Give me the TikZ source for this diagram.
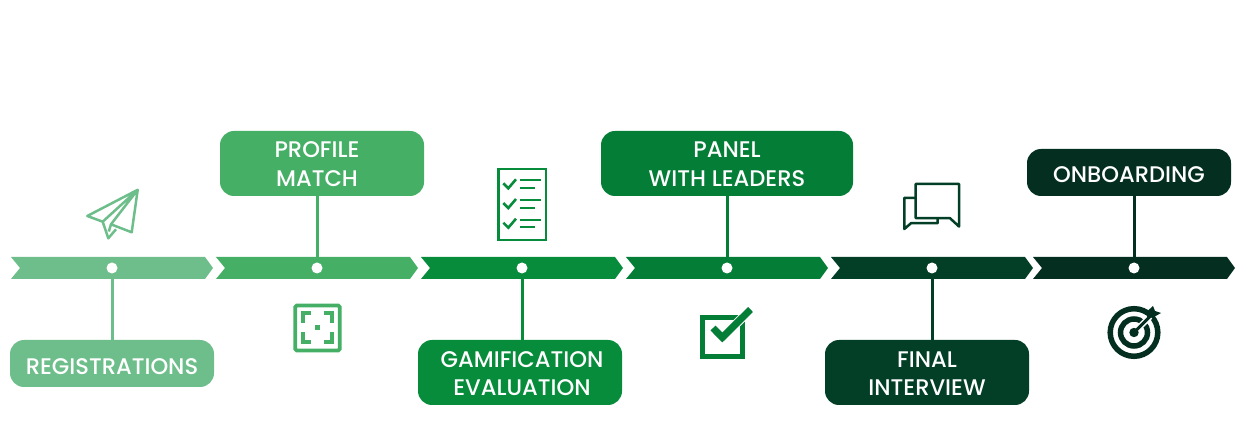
\documentclass[tikz,border=0pt]{standalone}
\usepackage{fontspec}
\setmainfont{Poppins}[UprightFont=* Medium]
\definecolor{cA}{HTML}{6DBE8A}
\definecolor{cB}{HTML}{45AF66}
\definecolor{cC}{HTML}{068C3A}
\definecolor{cD}{HTML}{047E37}
\definecolor{cE}{HTML}{033F27}
\definecolor{cF}{HTML}{042F20}
\tikzset{
  chev/.style={fill=#1,draw=none},
  dotn/.style={circle,fill=white,draw=none,minimum size=11pt,inner sep=0pt},
  box/.style={fill=#1,draw=none,rounded corners=14pt,inner sep=0pt},
  lab/.style={text=white,font=\fontsize{22.6}{28.6}\selectfont,align=center,inner sep=0pt},
  stem/.style={draw=#1,line width=3pt},
  ico/.style={draw=#1,line width=2.5pt,line join=miter},
}
\newcommand{\chevron}[3]{\fill[chev=#3] (#1,257) -- (#2-8,257) -- (#2,268) -- (#2-8,279) -- (#1,279) -- (#1+9,268) -- cycle;}
\begin{document}
\begin{tikzpicture}[x=1pt,y=-1pt]
\useasboundingbox (0,0) rectangle (1253,443);
\chevron{11}{213}{cA}
\chevron{216}{418}{cB}
\chevron{421}{623}{cC}
\chevron{626}{828}{cD}
\chevron{831}{1033}{cE}
\chevron{1033}{1235}{cF}
% dots
\node[dotn] (d1) at (112,268) {};
\node[dotn] (d2) at (317,268) {};
\node[dotn] (d3) at (522,268) {};
\node[dotn] (d4) at (727,268) {};
\node[dotn] (d5) at (932,268) {};
\node[dotn] (d6) at (1134,268) {};
% boxes
\node[box=cA,minimum width=204pt,minimum height=47pt] (b1) at (112,363.5) {};
\node[box=cB,minimum width=204pt,minimum height=65pt] (b2) at (322,163.5) {};
\node[box=cC,minimum width=204pt,minimum height=65pt] (b3) at (520,372.5) {};
\node[box=cD,minimum width=252pt,minimum height=65pt] (b4) at (727,163.5) {};
\node[box=cE,minimum width=204pt,minimum height=65pt] (b5) at (927,372.5) {};
\node[box=cF,minimum width=204pt,minimum height=47pt] (b6) at (1129,172.5) {};
% labels
\node[lab] (t1) at (112,366.5) {REGISTRATIONS};
\node[lab] (t2) at (317,164) {PROFILE\\MATCH};
\node[lab] (t3) at (522,373.5) {GAMIFICATION\\EVALUATION};
\node[lab] (t4) at (727,164) {PANEL\\WITH LEADERS};
\node[lab] (t5) at (927,373.5) {FINAL\\INTERVIEW};
\node[lab] (t6) at (1129,174.5) {ONBOARDING};
% stems
\draw[stem=cA] (d1 |- 0,279) -- (d1 |- b1.north);
\draw[stem=cB] (d2 |- 0,257) -- (d2 |- b2.south);
\draw[stem=cC] (d3 |- 0,279) -- (d3 |- b3.north);
\draw[stem=cD] (d4 |- 0,257) -- (d4 |- b4.south);
\draw[stem=cE] (d5 |- 0,279) -- (d5 |- b5.north);
\draw[stem=cF] (d6 |- 0,257) -- (d6 |- b6.south);
% paper plane
\draw[ico=cA,line join=round]
  (137.7,189.8) -- (87.3,216) -- (102.7,221.7) -- cycle
  (102.7,221.7) -- (108.3,238.3) -- (116,229.3)
  (137.7,189.8) -- (111,224.3) -- (131.7,232.3) -- cycle
  (111,224.3) -- (108.8,231.5);
% focus square
\draw[cB,line width=3.8pt,rounded corners=1.5pt] (295.2,305.5) rectangle (339.8,350.5);
\draw[cB,line width=4pt]
  (311,313.5) -- (303,313.5) -- (303,323)
  (323.5,313.5) -- (331.5,313.5) -- (331.5,323)
  (311,342.5) -- (303,342.5) -- (303,332.5)
  (323.5,342.5) -- (331.5,342.5) -- (331.5,332.5);
\fill[cB] (315,325) rectangle (320,330);
% checklist
\draw[ico=cC] (498.5,168.8) rectangle (546,240);
\foreach \dy in {0,19.7,39.4}{
  \draw[cC,line width=2.6pt] (503.3,183.3+\dy) -- (508.3,188.3+\dy) -- (516,179.3+\dy);
  \draw[cC,line width=2.2pt] (520,180.3+\dy) -- (540.5,180.3+\dy) (520,188+\dy) -- (534.5,188+\dy);
}
% check box
\draw[cD,line width=4.4pt] (702.5,317.5) rectangle (742.3,356.5);
\draw[white,line width=9pt] (722,338) -- (752,308);
\draw[cD,line width=7pt] (713,328) -- (722.3,337.5) -- (750.5,309.5);
% chat
\draw[ico=cE,line join=round] (915.7,184) -- (959,184) -- (959,226.5) -- (950,218.2) -- (915.7,218.2) -- cycle;
\draw[ico=cE,line join=round] (915.7,197.8) -- (904.3,197.8) -- (904.3,229) -- (911,223.2) -- (937.7,223.2) -- (937.7,218.2);
% target
\draw[cF,line width=5.5pt] (1134,332.5) circle (23.8);
\draw[cF,line width=5.5pt] (1134,332.5) circle (13.5);
\fill[cF] (1134,332.5) circle (4.7);
\draw[white,line width=6pt] (1138,328.5) -- (1150,316.5);
\draw[cF,line width=3pt] (1134,332.5) -- (1150,316.5);
\fill[cF] (1147.5,311) -- (1153,306) -- (1155,311) -- (1161,313) -- (1153,317.5) -- (1147,317) -- cycle;
\end{tikzpicture}
\end{document}
